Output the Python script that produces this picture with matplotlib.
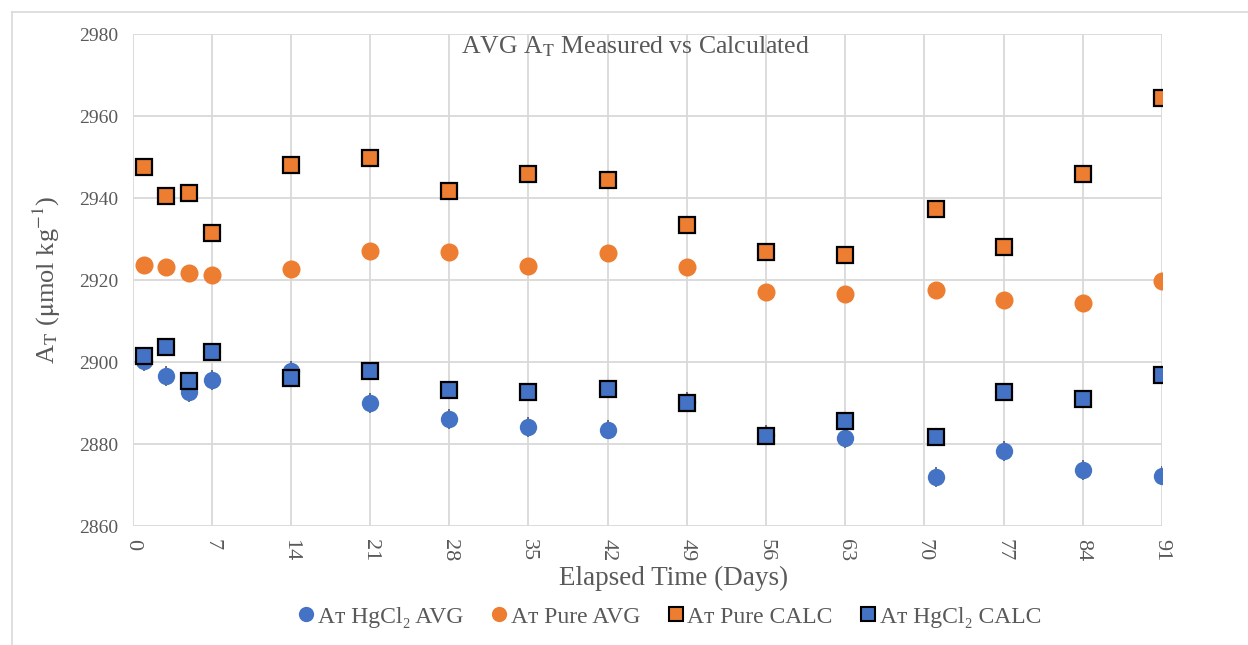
import matplotlib.pyplot as plt
from matplotlib.lines import Line2D
import numpy as np

plt.rcParams['font.family'] = ['Liberation Serif', 'DejaVu Serif']
plt.rcParams['mathtext.fontset'] = 'stix'

# elapsed time (days)
days = [1, 3, 5, 7, 14, 21, 28, 35, 42, 49, 56, 63, 71, 77, 84, 91]

hgcl2_avg = [2900.3, 2896.6, 2892.7, 2895.7, 2897.8, 2890.1, 2886.1, 2884.3,
             2883.6, 2890.3, 2882.2, 2881.6, 2872.0, 2878.3, 2873.8, 2872.3]
hgcl2_err = [2.4, 2.4, 2.4, 2.4, 2.4, 2.4, 2.4, 2.4,
             2.4, 2.4, 2.4, 2.4, 2.4, 2.4, 2.4, 2.3]
pure_avg = [2923.7, 2923.3, 2921.9, 2921.3, 2922.7, 2927.1, 2926.8, 2923.6,
            2926.7, 2923.3, 2917.2, 2916.6, 2917.6, 2915.2, 2914.4, 2919.9]
pure_calc = [2947.6, 2940.6, 2941.2, 2931.5, 2948.1, 2949.9, 2941.8, 2945.9,
             2944.5, 2933.6, 2926.9, 2926.2, 2937.5, 2928.2, 2945.9, 2964.4]
hgcl2_calc = [2901.6, 2903.8, 2895.4, 2902.4, 2896.2, 2897.8, 2893.3, 2892.7,
              2893.4, 2890.0, 2882.1, 2885.8, 2881.7, 2892.8, 2891.1, 2896.8]

legend_labels = ['A\u1d1b HgCl\u2082 AVG', 'A\u1d1b Pure AVG',
                 'A\u1d1b Pure CALC', 'A\u1d1b HgCl\u2082 CALC']

blue = '#4472C4'
orange = '#ED7D31'
gray_txt = '#595959'
grid_c = '#D9D9D9'

fig = plt.figure(figsize=(12.48, 6.45), dpi=100)
ax = fig.add_axes([132.5 / 1248, 1 - 526.3 / 645, (1162 - 132.5) / 1248, (526.3 - 34.3) / 645])

eb = ax.errorbar(days, hgcl2_avg, yerr=hgcl2_err, fmt='o', color=blue, ms=12.5, mew=0,
                 ecolor='#555555', elinewidth=1.2, capsize=3.8, capthick=2.0, zorder=3)
for cap in eb[1]:
    cap.set_zorder(3.5)
ax.plot(days, pure_avg, 'o', color=orange, ms=13, mew=0, zorder=4)
ax.plot(days, pure_calc, 's', color=orange, ms=11.5, mec='black', mew=1.6, zorder=5)
ax.plot(days, hgcl2_calc, 's', color=blue, ms=11.5, mec='black', mew=1.6, zorder=6)

ax.set_xlim(0, 91)
ax.set_ylim(2860, 2980)
ax.set_xticks(np.arange(0, 92, 7))
ax.set_yticks(np.arange(2860, 2981, 20))
ax.grid(True, color=grid_c, lw=1.3)
ax.set_axisbelow(True)
for s in ax.spines.values():
    s.set_visible(False)
ax.tick_params(axis='y', length=0, labelsize=14, colors=gray_txt, pad=10)
ax.tick_params(axis='x', length=0, labelsize=16, colors=gray_txt, pad=9)
for lab in ax.get_xticklabels():
    lab.set_rotation(-90)

ax.set_ylabel(r'A$_\mathrm{T}$ ($\mathrm{\mu}$mol kg$^{-1}$)', fontsize=19, color=gray_txt, labelpad=12)
fig.text(674 / 1248, 1 - 578 / 645, 'Elapsed Time (Days)', fontsize=19.5, color=gray_txt,
         ha='center', va='center')

fig.text(635 / 1248, 1 - 47 / 645, r'AVG A$_\mathrm{T}$ Measured vs Calculated',
         fontsize=18.5, color=gray_txt, ha='center', va='center')

handles = [
    Line2D([], [], ls='none', marker='o', color=blue, ms=11, mew=0),
    Line2D([], [], ls='none', marker='o', color=orange, ms=11, mew=0),
    Line2D([], [], ls='none', marker='s', color=orange, ms=9.5, mec='black', mew=1.5),
    Line2D([], [], ls='none', marker='s', color=blue, ms=9.5, mec='black', mew=1.5),
]
leg = fig.legend(handles, legend_labels, loc='center', bbox_to_anchor=(668 / 1248, 1 - 617 / 645),
                 ncol=4, frameon=False, fontsize=17, handletextpad=0.0, columnspacing=1.0,
                 handlelength=1.0)
for t in leg.get_texts():
    t.set_color(gray_txt)

# chart area border
fig.add_artist(Line2D([12 / 1248, 1], [1 - 12 / 645, 1 - 12 / 645], color=grid_c, lw=1.2))
fig.add_artist(Line2D([12 / 1248, 12 / 1248], [0, 1 - 12 / 645], color=grid_c, lw=1.2))

fig.savefig('out.png', dpi=100)
